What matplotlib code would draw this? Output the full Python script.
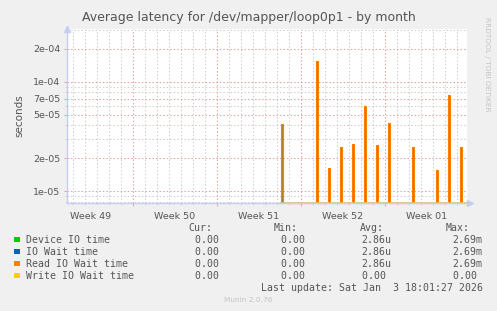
import matplotlib
matplotlib.use("Agg")
import matplotlib.pyplot as plt
import matplotlib.patches as mpatches
from matplotlib.ticker import FixedLocator, LogLocator, NullFormatter
import numpy as np

W, H = 497, 311
TXT, LIGHT = "#555555", "#c4c4c4"
AXC = "#c6cdf5"
GREEN, BLUE, ORANGE, YELLOW = "#00cc00", "#0066b3", "#ff8000", "#ffcc00"

# data (days from start of graph, day boundaries at integers)
week_labels = ["Week 49", "Week 50", "Week 51", "Week 52", "Week 01"]
week_starts = [5, 12, 19, 26]
data_start, data_end = 17.3, 32.85
spike_days = [17.35, 20.3, 21.3, 22.3, 23.3, 24.3, 25.3, 26.3, 28.3, 30.3, 31.3, 32.3]
read_vals = [4.1e-5, 1.55e-4, 1.62e-5, 2.53e-5, 2.69e-5, 6.0e-5, 2.64e-5,
             4.19e-5, 2.53e-5, 1.56e-5, 7.56e-5, 2.53e-5]
device_vals = list(read_vals)
wait_vals = list(read_vals)
write_vals = [0.0] * len(spike_days)

series = ["Device IO time", "IO Wait time", "Read IO Wait time", "Write IO Wait time"]
colors = [GREEN, BLUE, ORANGE, YELLOW]
cur = ["0.00 ", "0.00 ", "0.00 ", "0.00 "]
mins = ["0.00 ", "0.00 ", "0.00 ", "0.00 "]
avgs = ["2.86u", "2.86u", "2.86u", "0.00 "]
maxs = ["2.69m", "2.69m", "2.69m", "0.00 "]
last_update = "Last update: Sat Jan  3 18:01:27 2026"

YMIN, YMAX = 7.85e-6, 3.07e-4
XMIN, XMAX = -0.5, 32.85
DT = 0.16


def px(x, y):
    return x / W, 1 - y / H


def step_path(days, vals, floor):
    xs, ys = [data_start], [floor]
    for t, v in zip(days, vals):
        v = max(v, floor)
        xs += [t, t, t + DT, t + DT]
        ys += [floor, v, v, floor]
    xs.append(data_end); ys.append(floor)
    return np.array(xs), np.array(ys)


fig = plt.figure(figsize=(W / 100, H / 100), dpi=100, facecolor="#f0f0f0")
ax = fig.add_axes([66.5 / W, 1 - 202.5 / H, 400.2 / W, 174 / H])
ax.set_facecolor("white")
ax.set_yscale("log")
ax.set_xlim(XMIN, XMAX)
ax.set_ylim(YMIN, YMAX)

# grid
ax.xaxis.set_major_locator(FixedLocator(week_starts))
ax.xaxis.set_minor_locator(FixedLocator(np.arange(0, 33)))
ax.yaxis.set_major_locator(FixedLocator([1e-5, 2e-5, 5e-5, 7e-5, 1e-4, 2e-4]))
ax.yaxis.set_minor_locator(LogLocator(subs=np.arange(1, 10)))
ax.yaxis.set_minor_formatter(NullFormatter())
ax.set_yticklabels(["1e-05", "2e-05", "5e-05", "7e-05", "1e-04", "2e-04"])
ax.set_xticklabels([])
dots = (0, (1.4, 2.0))
ax.grid(which="major", color="#e8a0a0", linestyle=dots, linewidth=0.75)
ax.grid(which="minor", color="#cfcfcf", linestyle=dots, linewidth=0.75)
ax.set_axisbelow(True)
ax.tick_params(which="major", length=2.2, width=0.7, color="#e8a0a0",
               labelsize=6.8, labelcolor=TXT, pad=2.2)
ax.tick_params(which="minor", length=1.5, width=0.6, color="#cfcfcf")
for s in ["top", "right"]:
    ax.spines[s].set_visible(False)
for s in ["left", "bottom"]:
    ax.spines[s].set_color(AXC)
    ax.spines[s].set_linewidth(1.0)
ax.plot([0], [1], marker="^", color=AXC, markersize=4, transform=ax.transAxes,
        clip_on=False)
ax.plot([1.008], [0], marker=">", color=AXC, markersize=4, transform=ax.transAxes,
        clip_on=False)

for i, lab in enumerate(week_labels):
    ax.text(1.5 + 7 * i, -0.055, lab, transform=ax.get_xaxis_transform(),
            ha="center", va="top", fontsize=6.8, color=TXT)

ax.set_ylabel("seconds", fontsize=7.5, color=TXT, labelpad=6)

# series: device / io-wait hidden beneath read, write sits on the floor
floor = YMIN
xs, ys = step_path(spike_days, device_vals, floor)
ax.fill_between(xs, floor, ys, color="#8fa03a", lw=0, alpha=0.5)
xs, ys = step_path(spike_days, wait_vals, floor)
ax.fill_between(xs, floor, ys, color="#a8842e", lw=0)
xs, ys = step_path(spike_days, read_vals, floor)
ax.plot(xs, ys, color=ORANGE, lw=0.8, clip_on=False)
xs, ys = step_path(spike_days, write_vals, floor)
ax.plot(xs[[0, -1]], ys[[0, -1]], color="#dcc46e", lw=1.1, clip_on=False)

# title and side text
fig.text(*px(249, 18), "Average latency for /dev/mapper/loop0p1 - by month",
         ha="center", va="center", fontsize=9, color=TXT)
fig.text(*px(487.5, 64), "RRDTOOL / TOBI OETIKER", rotation=270, ha="center",
         va="center", fontsize=5.3, color=LIGHT)

# legend block
mono = "DejaVu Sans Mono"
fs = 7.1
for x, t in [(212.7, "Cur:"), (298, "Min:"), (384.3, "Avg:"), (470, "Max:")]:
    fig.text(*px(x, 228.3), t, ha="right", va="center", fontsize=fs,
             family=mono, color=TXT)
for i, name in enumerate(series):
    y = 239.7 + 12 * i
    fig.patches.append(mpatches.Rectangle(px(14.2, y + 2.6), 5.4 / W, 5.4 / H,
                                          transform=fig.transFigure,
                                          facecolor=colors[i], edgecolor="none"))
    fig.text(*px(26.3, y), name, ha="left", va="center", fontsize=fs,
             family=mono, color=TXT)
    for x, col in [(225.3, cur), (311, mins), (391.7, avgs), (482.7, maxs)]:
        fig.text(*px(x, y), col[i], ha="right", va="center", fontsize=fs,
                 family=mono, color=TXT)
fig.text(*px(482.7, 287.7), last_update, ha="right", va="center", fontsize=fs,
         family=mono, color=TXT)
fig.text(*px(247.7, 300.3), "Munin 2.0.76", ha="center", va="center",
         fontsize=5.3, color=LIGHT)

fig.savefig("out.png", dpi=100, facecolor=fig.get_facecolor())
